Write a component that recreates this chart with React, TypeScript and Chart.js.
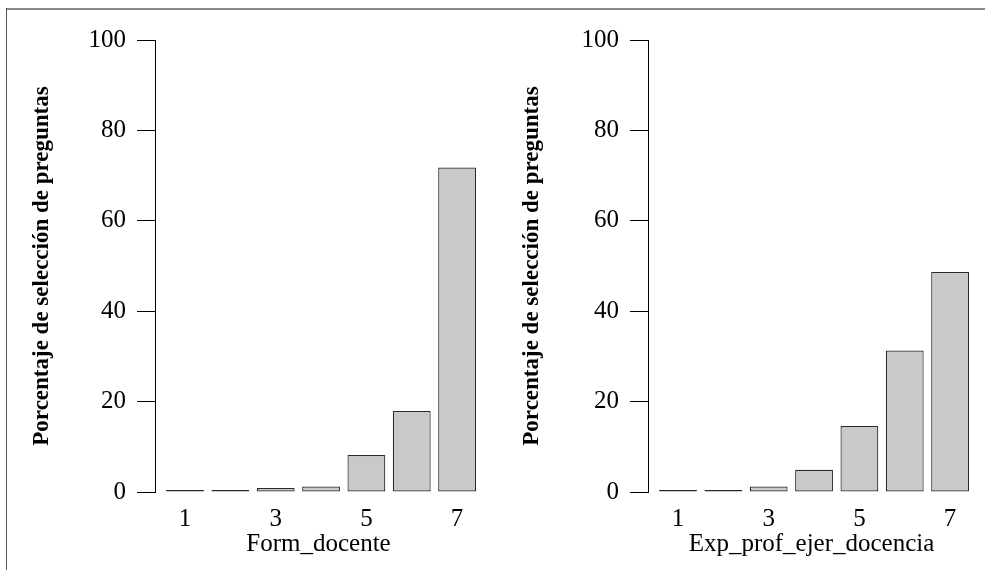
import React, { useEffect, useRef } from "react";
import { Chart, registerables } from "chart.js";

Chart.register(...registerables);

// ---- data ----
const categories = [1, 2, 3, 4, 5, 6, 7];
const formDocente = [0.3, 0.3, 0.9, 1.2, 8.2, 17.9, 71.8];
const expProfEjerDocencia = [0.3, 0.3, 1.2, 4.9, 14.6, 31.3, 48.7];
const xTickValues = [1, 3, 5, 7];
const yTickValues = [0, 20, 40, 60, 80, 100];
const yTitle = "Porcentaje de selección de preguntas";
const xTitles = ["Form_docente", "Exp_prof_ejer_docencia"];

// ---- layout ----
const PANEL_W = 492;
const PANEL_H = 570;
const AXIS_X = 155;
const UNIT = 45.35;
const FIRST_CENTER = 185;
const PLOT_TOP = 40;
const PLOT_BOTTOM = 492;
const PAD_RIGHT = 10;
const FONT_FAMILY = "'Liberation Serif', 'DejaVu Serif', serif";

function Panel({ values, xTitle, left, titlePad }: { values: number[]; xTitle: string; left: number; titlePad: number }) {
  const ref = useRef<HTMLCanvasElement | null>(null);
  useEffect(() => {
    if (!ref.current) return;
    const xMin = 1 - (FIRST_CENTER - AXIS_X) / UNIT;
    const xMax = xMin + (PANEL_W - PAD_RIGHT - AXIS_X) / UNIT;
    const font = { family: FONT_FAMILY, size: 25 };
    const chart = new Chart(ref.current, {
      type: "bar",
      data: {
        datasets: [
          {
            data: categories.map((c, i) => ({ x: c, y: values[i] })),
            backgroundColor: "#c8c9cb",
            borderColor: "#2a2a2a",
            borderWidth: 1.2,
            borderSkipped: false,
            barPercentage: 0.834,
            categoryPercentage: 1,
            minBarLength: 2,
            inflateAmount: 0,
          } as any,
        ],
      },
      options: {
        animation: false,
        responsive: false,
        devicePixelRatio: 1,
        layout: { padding: { left: 0, right: PAD_RIGHT, top: PLOT_TOP, bottom: 0 } },
        plugins: { legend: { display: false }, tooltip: { enabled: false } },
        scales: {
          x: {
            type: "linear",
            min: xMin,
            max: xMax,
            offset: false,
            grid: { display: false, drawTicks: false },
            border: { display: false },
            afterBuildTicks: (s: any) => {
              s.ticks = xTickValues.map((v) => ({ value: v }));
            },
            afterFit: (s: any) => {
              s.height = PANEL_H - PLOT_BOTTOM;
            },
            ticks: { font, color: "#000", padding: 12, maxRotation: 0, autoSkip: false },
            title: { display: true, text: xTitle, font, color: "#000", padding: { top: 0, bottom: 11 } },
          },
          y: {
            min: 0,
            max: 100,
            afterBuildTicks: (s: any) => {
              s.ticks = yTickValues.map((v) => ({ value: v }));
            },
            afterFit: (s: any) => {
              s.width = AXIS_X;
            },
            grid: { drawOnChartArea: false, drawTicks: true, tickLength: 18, color: "#000" },
            border: { display: true, color: "#000", width: 1 },
            ticks: { font, color: "#000", padding: 11 },
            title: {
              display: true,
              text: yTitle,
              font: { family: FONT_FAMILY, size: 23, weight: "bold" },
              color: "#000",
              padding: { top: titlePad, bottom: 0 },
            },
          },
        },
      } as any,
    });
    return () => chart.destroy();
  }, [values, xTitle, titlePad]);
  return (
    <canvas
      ref={ref}
      width={PANEL_W}
      height={PANEL_H}
      style={{ position: "absolute", left, top: 0, width: PANEL_W, height: PANEL_H }}
    />
  );
}

export default function App() {
  return (
    <div style={{ position: "fixed", left: 0, top: 0, width: 985, height: 570, background: "#fff", overflow: "hidden" }}>
      <Panel values={formDocente} xTitle={xTitles[0]} left={0} titlePad={28} />
      <Panel values={expProfEjerDocencia} xTitle={xTitles[1]} left={493} titlePad={25} />
      <div style={{ position: "absolute", left: 6, top: 8, width: 979, height: 2, background: "#8a8a8a" }} />
      <div style={{ position: "absolute", left: 6, top: 8, width: 1, height: 562, background: "#555" }} />
    </div>
  );
}
